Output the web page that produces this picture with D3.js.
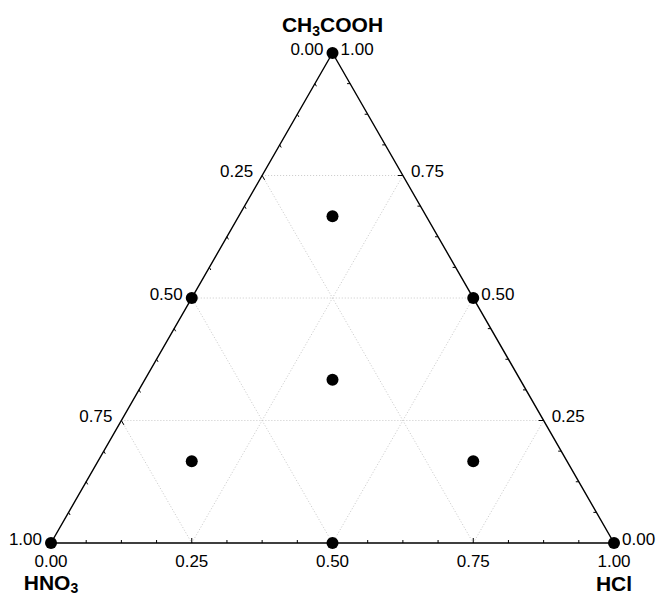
<!DOCTYPE html>
<html>
<head>
<meta charset="utf-8">
<script src="https://cdn.jsdelivr.net/npm/d3@7"></script>
<style>
  body { margin: 0; background: #fff; }
  text { font-family: "Liberation Sans", Arial, sans-serif; fill: #000; }
</style>
</head>
<body>
<div id="chart"></div>
<script>
// mixture design points (fractions)
const ch3cooh = [1, 0, 0, 0.5, 0.5, 0, 1/3, 2/3, 1/6, 1/6];
const hno3    = [0, 1, 0, 0.5, 0, 0.5, 1/3, 1/6, 2/3, 1/6];
const hcl     = [0, 0, 1, 0, 0.5, 0.5, 1/3, 1/6, 1/6, 2/3];

const majorTicks = [0, 0.25, 0.5, 0.75, 1];
const tickLabels = ["0.00", "0.25", "0.50", "0.75", "1.00"];
const gridLevels = [0.25, 0.5, 0.75];

const width = 659, height = 597;

const svg = d3.select("#chart").append("svg")
    .attr("width", width)
    .attr("height", height);

// bottom axis runs HNO3 -> HCl, vertical scale is CH3COOH
const x = d3.scaleLinear().domain([0, 1]).range([51, 614]);
const y = d3.scaleLinear().domain([0, 1]).range([543, 53]);

// barycentric -> screen
function proj(a, c) {  // a = CH3COOH, c = HCl
    return [x(c + a / 2), y(a)];
}

const vTop = proj(1, 0), vLeft = proj(0, 0), vRight = proj(0, 1);

// grid lines
const grid = svg.append("g").attr("class", "grid");
gridLevels.forEach(t => {
    const segs = [
        [proj(t, 0), proj(t, 1 - t)],          // constant CH3COOH
        [proj(0, t), proj(1 - t, t)],          // constant HCl
        [proj(1 - t, 0), proj(0, 1 - t)]       // constant HNO3
    ];
    segs.forEach(s => {
        grid.append("line")
            .attr("x1", s[0][0]).attr("y1", s[0][1])
            .attr("x2", s[1][0]).attr("y2", s[1][1])
            .attr("stroke", "#c8c8c8")
            .attr("stroke-width", 1)
            .attr("stroke-dasharray", "1,2");
    });
});

// triangle outline
svg.append("path")
    .attr("d", d3.line()([vTop, vLeft, vRight, vTop]))
    .attr("fill", "none")
    .attr("stroke", "#000")
    .attr("stroke-width", 1.4);

// ticks every 0.0625, pointing inward
const ticks = svg.append("g").attr("class", "ticks");
const minor = d3.range(0, 17).map(i => i / 16);
minor.forEach(t => {
    const len = (Math.round(t * 16) % 4 === 0) ? 5 : 3;
    const pL = proj(1 - t, 0);
    const qL = proj(1 - t - len / 560, len / 560);
    const pR = proj(t, 1 - t);
    const qR = proj(t, 1 - t - len / 560);
    const pB = proj(0, t);
    const qB = proj(len / 490, t - len / 980);
    [[pL, qL], [pR, qR], [pB, qB]].forEach(s => {
        ticks.append("line")
            .attr("x1", s[0][0]).attr("y1", s[0][1])
            .attr("x2", s[1][0]).attr("y2", s[1][1])
            .attr("stroke", "#000")
            .attr("stroke-width", 1);
    });
});

// tick labels
const labels = svg.append("g").attr("class", "tick-labels")
    .style("font-size", "17px");
majorTicks.forEach((t, i) => {
    // left edge: HNO3 fraction, 0 at top
    const pL = proj(1 - t, 0);
    labels.append("text")
        .attr("x", pL[0] - 9).attr("y", pL[1] - 4)
        .attr("text-anchor", "end")
        .attr("dominant-baseline", "central")
        .text(tickLabels[i]);
    // right edge: CH3COOH fraction, 0 at bottom-right
    const pR = proj(t, 1 - t);
    labels.append("text")
        .attr("x", pR[0] + 8).attr("y", pR[1] - 4)
        .attr("text-anchor", "start")
        .attr("dominant-baseline", "central")
        .text(tickLabels[i]);
    // bottom edge: HCl fraction
    const pB = proj(0, t);
    labels.append("text")
        .attr("x", pB[0]).attr("y", pB[1] + 18)
        .attr("text-anchor", "middle")
        .attr("dominant-baseline", "central")
        .text(tickLabels[i]);
});

// axis titles
const titles = svg.append("g").attr("class", "titles")
    .style("font-size", "21px")
    .style("font-weight", "bold");

const tTop = titles.append("text")
    .attr("x", vTop[0]).attr("y", 32)
    .attr("text-anchor", "middle");
tTop.append("tspan").text("CH");
tTop.append("tspan").attr("dy", 4).style("font-size", "14px").text("3");
tTop.append("tspan").attr("dy", -4).text("COOH");

const tLeft = titles.append("text")
    .attr("x", vLeft[0]).attr("y", 590)
    .attr("text-anchor", "middle");
tLeft.append("tspan").text("HNO");
tLeft.append("tspan").attr("dy", 3).style("font-size", "14px").text("3");

titles.append("text")
    .attr("x", vRight[0]).attr("y", 591)
    .attr("text-anchor", "middle")
    .text("HCl");

// design points
svg.append("g").attr("class", "points")
    .selectAll("circle")
    .data(d3.range(ch3cooh.length))
    .join("circle")
    .attr("cx", i => proj(ch3cooh[i], hcl[i])[0])
    .attr("cy", i => proj(ch3cooh[i], hcl[i])[1])
    .attr("r", 6)
    .attr("fill", "#000");
</script>
</body>
</html>
